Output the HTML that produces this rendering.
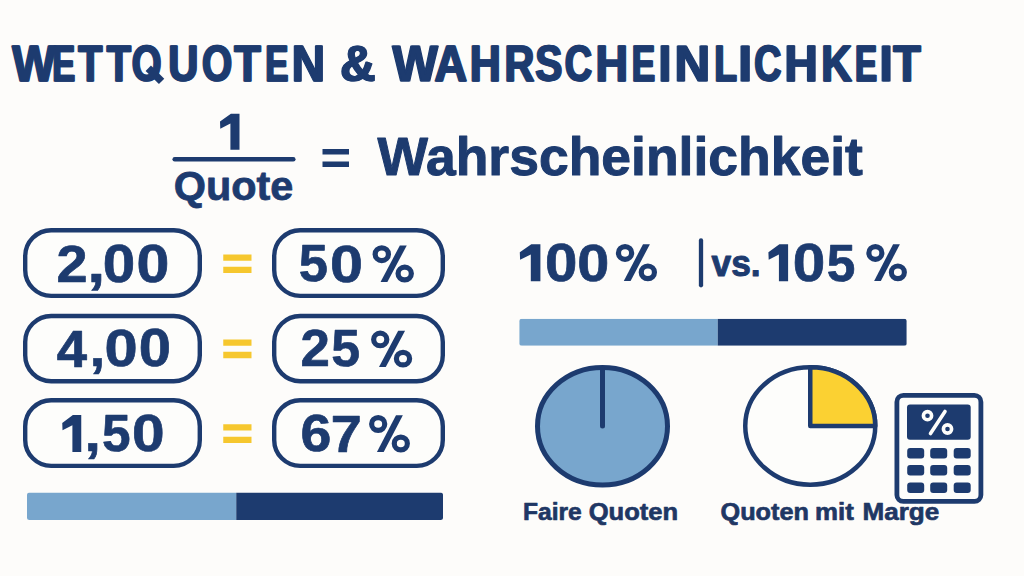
<!DOCTYPE html>
<html><head><meta charset="utf-8"><title>Wettquoten &amp; Wahrscheinlichkeit</title>
<style>html,body{margin:0;padding:0;background:#fdfcfa;font-family:"Liberation Sans",sans-serif;}svg{display:block}</style>
</head><body>
<svg width="1024" height="576" viewBox="0 0 1024 576" font-family="Liberation Sans, sans-serif" font-weight="bold">
<rect width="1024" height="576" fill="#fdfcfa"/>
<line x1="174.7" y1="159.25" x2="293.3" y2="159.25" stroke="#1d3b6f" stroke-width="4.5" stroke-linecap="round"/>
<rect x="322.5" y="149" width="26.5" height="5.5" fill="#1d3b6f"/><rect x="322.5" y="161.5" width="26.5" height="5.5" fill="#1d3b6f"/>
<rect x="25.2" y="230.2" width="174.6" height="65.70000000000002" rx="26" ry="26" fill="#fdfdfb" stroke="#1d3b6f" stroke-width="4.4"/>
<rect x="274.2" y="230.2" width="168.6" height="65.70000000000002" rx="26" ry="26" fill="#fdfdfb" stroke="#1d3b6f" stroke-width="4.4"/>
<rect x="25.2" y="315.95" width="174.6" height="65.24999999999997" rx="26" ry="26" fill="#fdfdfb" stroke="#1d3b6f" stroke-width="4.4"/>
<rect x="274.2" y="315.95" width="168.6" height="65.24999999999997" rx="26" ry="26" fill="#fdfdfb" stroke="#1d3b6f" stroke-width="4.4"/>
<rect x="25.2" y="400.2" width="174.6" height="65.70000000000002" rx="26" ry="26" fill="#fdfdfb" stroke="#1d3b6f" stroke-width="4.4"/>
<rect x="274.2" y="400.2" width="168.6" height="65.70000000000002" rx="26" ry="26" fill="#fdfdfb" stroke="#1d3b6f" stroke-width="4.4"/>
<rect x="223.25" y="254.5" width="28.25" height="6.25" fill="#f6c72e"/><rect x="223.25" y="266.75" width="28.25" height="6.25" fill="#f6c72e"/>
<rect x="223.25" y="339.5" width="28.25" height="6.25" fill="#f6c72e"/><rect x="223.25" y="351.75" width="28.25" height="6.5" fill="#f6c72e"/>
<rect x="223.25" y="424.25" width="28.25" height="6.25" fill="#f6c72e"/><rect x="223.25" y="436.75" width="28.25" height="6.25" fill="#f6c72e"/>
<clipPath id="c27"><rect x="27" y="492.5" width="416" height="27.5" rx="2.5"/></clipPath><g clip-path="url(#c27)"><rect x="27" y="492.5" width="209.25" height="27.5" fill="#78a6cd"/><rect x="236.25" y="492.5" width="206.75" height="27.5" fill="#1d3b6f"/></g>
<clipPath id="c519"><rect x="519.25" y="318.75" width="387.5" height="27.0" rx="2.5"/></clipPath><g clip-path="url(#c519)"><rect x="519.25" y="318.75" width="198.5" height="27.0" fill="#78a6cd"/><rect x="717.75" y="318.75" width="189.0" height="27.0" fill="#1d3b6f"/></g>
<line x1="701" y1="240.5" x2="701" y2="285.3" stroke="#1d3b6f" stroke-width="4.3" stroke-linecap="round"/>
<ellipse cx="602.5" cy="426.25" rx="65" ry="58.75" fill="#78a6cd" stroke="#1d3b6f" stroke-width="5"/>
<line x1="602.5" y1="369" x2="602.5" y2="426" stroke="#1d3b6f" stroke-width="5" stroke-linecap="round"/>
<ellipse cx="810.25" cy="426.0" rx="65.0" ry="58.75" fill="#fdfdfb" stroke="#1d3b6f" stroke-width="4.5"/>
<path d="M810.25,426.0 L810.25,367.25 A65.0,58.75 0 0 1 875.25,426.0 Z" fill="#fbd132" stroke="#1d3b6f" stroke-width="4.5" stroke-linejoin="round"/>
<rect x="896.9" y="395.4" width="84.0" height="106.0" rx="6.5" fill="#fdfdfb" stroke="#1d3b6f" stroke-width="4.8"/>
<rect x="907" y="404.5" width="63.7" height="35.3" rx="3" fill="#1d3b6f"/>
<rect x="907.2" y="448" width="17" height="10.5" rx="3" fill="#1d3b6f"/>
<rect x="930.2" y="448" width="17" height="10.5" rx="3" fill="#1d3b6f"/>
<rect x="953.7" y="448" width="17" height="10.5" rx="3" fill="#1d3b6f"/>
<rect x="907.2" y="465" width="17" height="10.5" rx="3" fill="#1d3b6f"/>
<rect x="930.2" y="465" width="17" height="10.5" rx="3" fill="#1d3b6f"/>
<rect x="953.7" y="465" width="17" height="10.5" rx="3" fill="#1d3b6f"/>
<rect x="907.2" y="482.5" width="17" height="10.5" rx="3" fill="#1d3b6f"/>
<rect x="930.2" y="482.5" width="17" height="10.5" rx="3" fill="#1d3b6f"/>
<rect x="953.7" y="482.5" width="17" height="10.5" rx="3" fill="#1d3b6f"/>
<g stroke="#fdfdfb" stroke-width="3.6" fill="none" stroke-linecap="round"><circle cx="927.5" cy="415.7" r="4.1"/><circle cx="947.5" cy="429" r="4.1"/><line x1="945" y1="411.5" x2="930.5" y2="433.5"/></g>
<line x1="148.3" y1="68.3" x2="161.6" y2="81.4" stroke="#1d3b6f" stroke-width="7.6"/>
<polygon points="239.50,113.70 230.89,113.70 220.00,121.48 220.28,128.68 230.41,123.62 230.41,149.70 239.50,149.70" fill="#1d3b6f"/>
<polygon points="540.40,244.25 531.30,244.25 519.80,252.24 520.10,259.63 530.80,254.44 530.80,281.20 540.40,281.20" fill="#1d3b6f"/>
<polygon points="788.10,244.25 779.40,244.25 768.40,252.24 768.69,259.63 778.92,254.44 778.92,281.20 788.10,281.20" fill="#1d3b6f"/>
<polygon points="81.25,415.00 72.86,415.00 62.25,422.98 62.53,430.36 72.40,425.17 72.40,451.90 81.25,451.90" fill="#1d3b6f"/>
<g transform="translate(615.80,244.00) scale(1.0000,1.0000)"><ellipse cx="9.25" cy="8.95" rx="6.6" ry="6.35" fill="none" stroke="#1d3b6f" stroke-width="5.2"/><ellipse cx="32.05" cy="28.35" rx="6.6" ry="6.35" fill="none" stroke="#1d3b6f" stroke-width="5.2"/><polygon points="27.2,0.2 34.1,0.2 14.8,36.9 8,36.9" fill="#1d3b6f"/></g>
<g transform="translate(866.25,244.00) scale(0.9867,1.0000)"><ellipse cx="9.25" cy="8.95" rx="6.6" ry="6.35" fill="none" stroke="#1d3b6f" stroke-width="5.2"/><ellipse cx="32.05" cy="28.35" rx="6.6" ry="6.35" fill="none" stroke="#1d3b6f" stroke-width="5.2"/><polygon points="27.2,0.2 34.1,0.2 14.8,36.9 8,36.9" fill="#1d3b6f"/></g>
<g transform="translate(372.50,245.25) scale(1.0048,0.9987)"><ellipse cx="9.25" cy="8.95" rx="6.6" ry="6.35" fill="none" stroke="#1d3b6f" stroke-width="5.2"/><ellipse cx="32.05" cy="28.35" rx="6.6" ry="6.35" fill="none" stroke="#1d3b6f" stroke-width="5.2"/><polygon points="27.2,0.2 34.1,0.2 14.8,36.9 8,36.9" fill="#1d3b6f"/></g>
<g transform="translate(371.00,330.60) scale(0.9988,0.9893)"><ellipse cx="9.25" cy="8.95" rx="6.6" ry="6.35" fill="none" stroke="#1d3b6f" stroke-width="5.2"/><ellipse cx="32.05" cy="28.35" rx="6.6" ry="6.35" fill="none" stroke="#1d3b6f" stroke-width="5.2"/><polygon points="27.2,0.2 34.1,0.2 14.8,36.9 8,36.9" fill="#1d3b6f"/></g>
<g transform="translate(369.00,415.00) scale(0.9927,1.0054)"><ellipse cx="9.25" cy="8.95" rx="6.6" ry="6.35" fill="none" stroke="#1d3b6f" stroke-width="5.2"/><ellipse cx="32.05" cy="28.35" rx="6.6" ry="6.35" fill="none" stroke="#1d3b6f" stroke-width="5.2"/><polygon points="27.2,0.2 34.1,0.2 14.8,36.9 8,36.9" fill="#1d3b6f"/></g>
<text transform="translate(11.75,81.00) scale(0.9075,1)" font-size="50.39" fill="#1d3b6f" stroke="#1d3b6f" stroke-width="1.2" stroke-linejoin="round" vector-effect="non-scaling-stroke">W</text><text transform="translate(12.75,81.00) scale(0.9075,1)" font-size="50.39" fill="#1d3b6f" stroke="#1d3b6f" stroke-width="1.2" stroke-linejoin="round" vector-effect="non-scaling-stroke">W</text>
<text transform="translate(51.75,81.00) scale(0.6823,1)" font-size="50.39" fill="#1d3b6f" stroke="#1d3b6f" stroke-width="1.2" stroke-linejoin="round" vector-effect="non-scaling-stroke">E</text><text transform="translate(52.75,81.00) scale(0.6823,1)" font-size="50.39" fill="#1d3b6f" stroke="#1d3b6f" stroke-width="1.2" stroke-linejoin="round" vector-effect="non-scaling-stroke">E</text>
<text transform="translate(77.75,81.00) scale(0.7814,1)" font-size="50.39" fill="#1d3b6f" stroke="#1d3b6f" stroke-width="1.2" stroke-linejoin="round" vector-effect="non-scaling-stroke">T</text><text transform="translate(78.75,81.00) scale(0.7814,1)" font-size="50.39" fill="#1d3b6f" stroke="#1d3b6f" stroke-width="1.2" stroke-linejoin="round" vector-effect="non-scaling-stroke">T</text>
<text transform="translate(106.25,81.00) scale(0.7860,1)" font-size="50.39" fill="#1d3b6f" stroke="#1d3b6f" stroke-width="1.2" stroke-linejoin="round" vector-effect="non-scaling-stroke">T</text><text transform="translate(107.25,81.00) scale(0.7860,1)" font-size="50.39" fill="#1d3b6f" stroke="#1d3b6f" stroke-width="1.2" stroke-linejoin="round" vector-effect="non-scaling-stroke">T</text>
<text transform="translate(131.25,81.00) scale(0.7585,1)" font-size="50.39" fill="#1d3b6f" stroke="#1d3b6f" stroke-width="1.2" stroke-linejoin="round" vector-effect="non-scaling-stroke">O</text><text transform="translate(132.25,81.00) scale(0.7585,1)" font-size="50.39" fill="#1d3b6f" stroke="#1d3b6f" stroke-width="1.2" stroke-linejoin="round" vector-effect="non-scaling-stroke">O</text>
<text transform="translate(167.75,81.00) scale(0.8278,1)" font-size="50.39" fill="#1d3b6f" stroke="#1d3b6f" stroke-width="1.2" stroke-linejoin="round" vector-effect="non-scaling-stroke">U</text><text transform="translate(168.75,81.00) scale(0.8278,1)" font-size="50.39" fill="#1d3b6f" stroke="#1d3b6f" stroke-width="1.2" stroke-linejoin="round" vector-effect="non-scaling-stroke">U</text>
<text transform="translate(201.50,81.00) scale(0.7693,1)" font-size="50.39" fill="#1d3b6f" stroke="#1d3b6f" stroke-width="1.2" stroke-linejoin="round" vector-effect="non-scaling-stroke">O</text><text transform="translate(202.50,81.00) scale(0.7693,1)" font-size="50.39" fill="#1d3b6f" stroke="#1d3b6f" stroke-width="1.2" stroke-linejoin="round" vector-effect="non-scaling-stroke">O</text>
<text transform="translate(233.75,81.00) scale(0.8600,1)" font-size="50.39" fill="#1d3b6f" stroke="#1d3b6f" stroke-width="1.2" stroke-linejoin="round" vector-effect="non-scaling-stroke">T</text><text transform="translate(234.75,81.00) scale(0.8600,1)" font-size="50.39" fill="#1d3b6f" stroke="#1d3b6f" stroke-width="1.2" stroke-linejoin="round" vector-effect="non-scaling-stroke">T</text>
<text transform="translate(264.75,81.00) scale(0.6888,1)" font-size="50.39" fill="#1d3b6f" stroke="#1d3b6f" stroke-width="1.2" stroke-linejoin="round" vector-effect="non-scaling-stroke">E</text><text transform="translate(265.75,81.00) scale(0.6888,1)" font-size="50.39" fill="#1d3b6f" stroke="#1d3b6f" stroke-width="1.2" stroke-linejoin="round" vector-effect="non-scaling-stroke">E</text>
<text transform="translate(291.25,81.00) scale(0.9119,1)" font-size="50.39" fill="#1d3b6f" stroke="#1d3b6f" stroke-width="1.2" stroke-linejoin="round" vector-effect="non-scaling-stroke">N</text><text transform="translate(292.25,81.00) scale(0.9119,1)" font-size="50.39" fill="#1d3b6f" stroke="#1d3b6f" stroke-width="1.2" stroke-linejoin="round" vector-effect="non-scaling-stroke">N</text>
<text transform="translate(339.75,81.00) scale(0.9643,1)" font-size="50.39" fill="#1d3b6f" stroke="#1d3b6f" stroke-width="1.2" stroke-linejoin="round" vector-effect="non-scaling-stroke">&amp;</text><text transform="translate(340.75,81.00) scale(0.9643,1)" font-size="50.39" fill="#1d3b6f" stroke="#1d3b6f" stroke-width="1.2" stroke-linejoin="round" vector-effect="non-scaling-stroke">&amp;</text>
<text transform="translate(392.00,81.00) scale(0.9535,1)" font-size="50.39" fill="#1d3b6f" stroke="#1d3b6f" stroke-width="1.2" stroke-linejoin="round" vector-effect="non-scaling-stroke">W</text><text transform="translate(393.00,81.00) scale(0.9535,1)" font-size="50.39" fill="#1d3b6f" stroke="#1d3b6f" stroke-width="1.2" stroke-linejoin="round" vector-effect="non-scaling-stroke">W</text>
<text transform="translate(434.00,81.00) scale(0.8945,1)" font-size="50.39" fill="#1d3b6f" stroke="#1d3b6f" stroke-width="1.2" stroke-linejoin="round" vector-effect="non-scaling-stroke">A</text><text transform="translate(435.00,81.00) scale(0.8945,1)" font-size="50.39" fill="#1d3b6f" stroke="#1d3b6f" stroke-width="1.2" stroke-linejoin="round" vector-effect="non-scaling-stroke">A</text>
<text transform="translate(469.25,81.00) scale(0.8537,1)" font-size="50.39" fill="#1d3b6f" stroke="#1d3b6f" stroke-width="1.2" stroke-linejoin="round" vector-effect="non-scaling-stroke">H</text><text transform="translate(470.25,81.00) scale(0.8537,1)" font-size="50.39" fill="#1d3b6f" stroke="#1d3b6f" stroke-width="1.2" stroke-linejoin="round" vector-effect="non-scaling-stroke">H</text>
<text transform="translate(504.00,81.00) scale(0.8191,1)" font-size="50.39" fill="#1d3b6f" stroke="#1d3b6f" stroke-width="1.2" stroke-linejoin="round" vector-effect="non-scaling-stroke">R</text><text transform="translate(505.00,81.00) scale(0.8191,1)" font-size="50.39" fill="#1d3b6f" stroke="#1d3b6f" stroke-width="1.2" stroke-linejoin="round" vector-effect="non-scaling-stroke">R</text>
<text transform="translate(534.75,81.00) scale(0.8065,1)" font-size="50.39" fill="#1d3b6f" stroke="#1d3b6f" stroke-width="1.2" stroke-linejoin="round" vector-effect="non-scaling-stroke">S</text><text transform="translate(535.75,81.00) scale(0.8065,1)" font-size="50.39" fill="#1d3b6f" stroke="#1d3b6f" stroke-width="1.2" stroke-linejoin="round" vector-effect="non-scaling-stroke">S</text>
<text transform="translate(564.25,81.00) scale(0.7491,1)" font-size="50.39" fill="#1d3b6f" stroke="#1d3b6f" stroke-width="1.2" stroke-linejoin="round" vector-effect="non-scaling-stroke">C</text><text transform="translate(565.25,81.00) scale(0.7491,1)" font-size="50.39" fill="#1d3b6f" stroke="#1d3b6f" stroke-width="1.2" stroke-linejoin="round" vector-effect="non-scaling-stroke">C</text>
<text transform="translate(595.00,81.00) scale(0.8945,1)" font-size="50.39" fill="#1d3b6f" stroke="#1d3b6f" stroke-width="1.2" stroke-linejoin="round" vector-effect="non-scaling-stroke">H</text><text transform="translate(596.00,81.00) scale(0.8945,1)" font-size="50.39" fill="#1d3b6f" stroke="#1d3b6f" stroke-width="1.2" stroke-linejoin="round" vector-effect="non-scaling-stroke">H</text>
<text transform="translate(631.25,81.00) scale(0.6954,1)" font-size="50.39" fill="#1d3b6f" stroke="#1d3b6f" stroke-width="1.2" stroke-linejoin="round" vector-effect="non-scaling-stroke">E</text><text transform="translate(632.25,81.00) scale(0.6954,1)" font-size="50.39" fill="#1d3b6f" stroke="#1d3b6f" stroke-width="1.2" stroke-linejoin="round" vector-effect="non-scaling-stroke">E</text>
<text transform="translate(658.00,81.00) scale(0.9161,1)" font-size="50.39" fill="#1d3b6f" stroke="#1d3b6f" stroke-width="1.2" stroke-linejoin="round" vector-effect="non-scaling-stroke">I</text><text transform="translate(659.00,81.00) scale(0.9161,1)" font-size="50.39" fill="#1d3b6f" stroke="#1d3b6f" stroke-width="1.2" stroke-linejoin="round" vector-effect="non-scaling-stroke">I</text>
<text transform="translate(674.00,81.00) scale(0.9796,1)" font-size="50.39" fill="#1d3b6f" stroke="#1d3b6f" stroke-width="1.2" stroke-linejoin="round" vector-effect="non-scaling-stroke">N</text><text transform="translate(675.00,81.00) scale(0.9796,1)" font-size="50.39" fill="#1d3b6f" stroke="#1d3b6f" stroke-width="1.2" stroke-linejoin="round" vector-effect="non-scaling-stroke">N</text>
<text transform="translate(713.75,81.00) scale(0.7378,1)" font-size="50.39" fill="#1d3b6f" stroke="#1d3b6f" stroke-width="1.2" stroke-linejoin="round" vector-effect="non-scaling-stroke">L</text><text transform="translate(714.75,81.00) scale(0.7378,1)" font-size="50.39" fill="#1d3b6f" stroke="#1d3b6f" stroke-width="1.2" stroke-linejoin="round" vector-effect="non-scaling-stroke">L</text>
<text transform="translate(737.75,81.00) scale(0.9845,1)" font-size="50.39" fill="#1d3b6f" stroke="#1d3b6f" stroke-width="1.2" stroke-linejoin="round" vector-effect="non-scaling-stroke">I</text><text transform="translate(738.75,81.00) scale(0.9845,1)" font-size="50.39" fill="#1d3b6f" stroke="#1d3b6f" stroke-width="1.2" stroke-linejoin="round" vector-effect="non-scaling-stroke">I</text>
<text transform="translate(753.75,81.00) scale(0.7434,1)" font-size="50.39" fill="#1d3b6f" stroke="#1d3b6f" stroke-width="1.2" stroke-linejoin="round" vector-effect="non-scaling-stroke">C</text><text transform="translate(754.75,81.00) scale(0.7434,1)" font-size="50.39" fill="#1d3b6f" stroke="#1d3b6f" stroke-width="1.2" stroke-linejoin="round" vector-effect="non-scaling-stroke">C</text>
<text transform="translate(784.00,81.00) scale(0.9119,1)" font-size="50.39" fill="#1d3b6f" stroke="#1d3b6f" stroke-width="1.2" stroke-linejoin="round" vector-effect="non-scaling-stroke">H</text><text transform="translate(785.00,81.00) scale(0.9119,1)" font-size="50.39" fill="#1d3b6f" stroke="#1d3b6f" stroke-width="1.2" stroke-linejoin="round" vector-effect="non-scaling-stroke">H</text>
<text transform="translate(820.75,81.00) scale(0.8375,1)" font-size="50.39" fill="#1d3b6f" stroke="#1d3b6f" stroke-width="1.2" stroke-linejoin="round" vector-effect="non-scaling-stroke">K</text><text transform="translate(821.75,81.00) scale(0.8375,1)" font-size="50.39" fill="#1d3b6f" stroke="#1d3b6f" stroke-width="1.2" stroke-linejoin="round" vector-effect="non-scaling-stroke">K</text>
<text transform="translate(854.50,81.00) scale(0.6560,1)" font-size="50.39" fill="#1d3b6f" stroke="#1d3b6f" stroke-width="1.2" stroke-linejoin="round" vector-effect="non-scaling-stroke">E</text><text transform="translate(855.50,81.00) scale(0.6560,1)" font-size="50.39" fill="#1d3b6f" stroke="#1d3b6f" stroke-width="1.2" stroke-linejoin="round" vector-effect="non-scaling-stroke">E</text>
<text transform="translate(879.00,81.00) scale(0.9423,1)" font-size="50.39" fill="#1d3b6f" stroke="#1d3b6f" stroke-width="1.2" stroke-linejoin="round" vector-effect="non-scaling-stroke">I</text><text transform="translate(880.00,81.00) scale(0.9423,1)" font-size="50.39" fill="#1d3b6f" stroke="#1d3b6f" stroke-width="1.2" stroke-linejoin="round" vector-effect="non-scaling-stroke">I</text>
<text transform="translate(892.75,81.00) scale(0.8923,1)" font-size="50.39" fill="#1d3b6f" stroke="#1d3b6f" stroke-width="1.2" stroke-linejoin="round" vector-effect="non-scaling-stroke">T</text><text transform="translate(893.75,81.00) scale(0.8923,1)" font-size="50.39" fill="#1d3b6f" stroke="#1d3b6f" stroke-width="1.2" stroke-linejoin="round" vector-effect="non-scaling-stroke">T</text>
<text transform="translate(173.75,200.00) scale(1.0108,1)" font-size="40.98" fill="#1d3b6f" stroke="#1d3b6f" stroke-width="0.8" stroke-linejoin="round" vector-effect="non-scaling-stroke">Quote</text>
<text transform="translate(377.50,174.50) scale(0.9805,1)" font-size="54.53" fill="#1d3b6f" stroke="#1d3b6f" stroke-width="1.0" stroke-linejoin="round" vector-effect="non-scaling-stroke">Wahrscheinlichkeit</text>
<text transform="translate(711.50,276.25) scale(0.9452,1)" font-size="37.38" fill="#1d3b6f" stroke="#1d3b6f" stroke-width="1.0" stroke-linejoin="round" vector-effect="non-scaling-stroke">vs.</text>
<text transform="translate(545.00,280.98) scale(1.1043,1)" font-size="52.73" fill="#1d3b6f" stroke="#1d3b6f" stroke-width="0.7" stroke-linejoin="round" vector-effect="non-scaling-stroke">0</text>
<text transform="translate(577.25,280.73) scale(1.0987,1)" font-size="52.39" fill="#1d3b6f" stroke="#1d3b6f" stroke-width="0.7" stroke-linejoin="round" vector-effect="non-scaling-stroke">0</text>
<text transform="translate(792.75,280.98) scale(1.1088,1)" font-size="52.73" fill="#1d3b6f" stroke="#1d3b6f" stroke-width="0.7" stroke-linejoin="round" vector-effect="non-scaling-stroke">0</text>
<text transform="translate(826.75,280.72) scale(0.9936,1)" font-size="51.76" fill="#1d3b6f" stroke="#1d3b6f" stroke-width="0.7" stroke-linejoin="round" vector-effect="non-scaling-stroke">5</text>
<text transform="translate(56.50,281.98) scale(1.0656,1)" font-size="52.44" fill="#1d3b6f" stroke="#1d3b6f" stroke-width="0.7" stroke-linejoin="round" vector-effect="non-scaling-stroke">2</text>
<text transform="translate(87.25,282.02) scale(1.2103,1)" font-size="53.60" fill="#1d3b6f" stroke="#1d3b6f" stroke-width="0.7" stroke-linejoin="round" vector-effect="non-scaling-stroke">,</text>
<text transform="translate(102.75,281.98) scale(1.1062,1)" font-size="52.73" fill="#1d3b6f" stroke="#1d3b6f" stroke-width="0.7" stroke-linejoin="round" vector-effect="non-scaling-stroke">0</text>
<text transform="translate(136.50,281.98) scale(1.1198,1)" font-size="52.73" fill="#1d3b6f" stroke="#1d3b6f" stroke-width="0.7" stroke-linejoin="round" vector-effect="non-scaling-stroke">0</text>
<text transform="translate(56.75,366.72) scale(1.0517,1)" font-size="51.83" fill="#1d3b6f" stroke="#1d3b6f" stroke-width="0.7" stroke-linejoin="round" vector-effect="non-scaling-stroke">4</text>
<text transform="translate(89.75,366.32) scale(1.0593,1)" font-size="52.18" fill="#1d3b6f" stroke="#1d3b6f" stroke-width="0.7" stroke-linejoin="round" vector-effect="non-scaling-stroke">,</text>
<text transform="translate(104.50,366.47) scale(1.1308,1)" font-size="52.74" fill="#1d3b6f" stroke="#1d3b6f" stroke-width="0.7" stroke-linejoin="round" vector-effect="non-scaling-stroke">0</text>
<text transform="translate(138.75,366.47) scale(1.0998,1)" font-size="52.74" fill="#1d3b6f" stroke="#1d3b6f" stroke-width="0.7" stroke-linejoin="round" vector-effect="non-scaling-stroke">0</text>
<text transform="translate(84.50,451.32) scale(1.1308,1)" font-size="52.18" fill="#1d3b6f" stroke="#1d3b6f" stroke-width="0.7" stroke-linejoin="round" vector-effect="non-scaling-stroke">,</text>
<text transform="translate(102.00,451.23) scale(0.9923,1)" font-size="51.76" fill="#1d3b6f" stroke="#1d3b6f" stroke-width="0.7" stroke-linejoin="round" vector-effect="non-scaling-stroke">5</text>
<text transform="translate(132.00,451.48) scale(1.1118,1)" font-size="52.73" fill="#1d3b6f" stroke="#1d3b6f" stroke-width="0.7" stroke-linejoin="round" vector-effect="non-scaling-stroke">0</text>
<text transform="translate(298.75,281.47) scale(1.0144,1)" font-size="51.76" fill="#1d3b6f" stroke="#1d3b6f" stroke-width="0.7" stroke-linejoin="round" vector-effect="non-scaling-stroke">5</text>
<text transform="translate(330.00,281.98) scale(1.1242,1)" font-size="52.73" fill="#1d3b6f" stroke="#1d3b6f" stroke-width="0.7" stroke-linejoin="round" vector-effect="non-scaling-stroke">0</text>
<text transform="translate(300.50,366.48) scale(1.0140,1)" font-size="52.09" fill="#1d3b6f" stroke="#1d3b6f" stroke-width="0.7" stroke-linejoin="round" vector-effect="non-scaling-stroke">2</text>
<text transform="translate(331.25,366.47) scale(1.0011,1)" font-size="51.76" fill="#1d3b6f" stroke="#1d3b6f" stroke-width="0.7" stroke-linejoin="round" vector-effect="non-scaling-stroke">5</text>
<text transform="translate(300.50,451.48) scale(1.0667,1)" font-size="52.05" fill="#1d3b6f" stroke="#1d3b6f" stroke-width="0.7" stroke-linejoin="round" vector-effect="non-scaling-stroke">6</text>
<text transform="translate(330.75,451.72) scale(1.0760,1)" font-size="51.83" fill="#1d3b6f" stroke="#1d3b6f" stroke-width="0.7" stroke-linejoin="round" vector-effect="non-scaling-stroke">7</text>
<text transform="translate(523.00,519.50) scale(0.9956,1)" font-size="24.67" fill="#1f3764" stroke="#1f3764" stroke-width="0.7" stroke-linejoin="round" vector-effect="non-scaling-stroke">Faire</text>
<text transform="translate(588.75,519.50) scale(1.0355,1)" font-size="24.67" fill="#1f3764" stroke="#1f3764" stroke-width="0.7" stroke-linejoin="round" vector-effect="non-scaling-stroke">Quoten</text>
<text transform="translate(720.50,519.50) scale(1.0237,1)" font-size="24.67" fill="#1f3764" stroke="#1f3764" stroke-width="0.7" stroke-linejoin="round" vector-effect="non-scaling-stroke">Quoten</text>
<text transform="translate(815.00,519.50) scale(1.0490,1)" font-size="24.67" fill="#1f3764" stroke="#1f3764" stroke-width="0.7" stroke-linejoin="round" vector-effect="non-scaling-stroke">mit</text>
<text transform="translate(862.50,519.50) scale(1.0563,1)" font-size="24.67" fill="#1f3764" stroke="#1f3764" stroke-width="0.7" stroke-linejoin="round" vector-effect="non-scaling-stroke">Marge</text>
</svg>
</body></html>
